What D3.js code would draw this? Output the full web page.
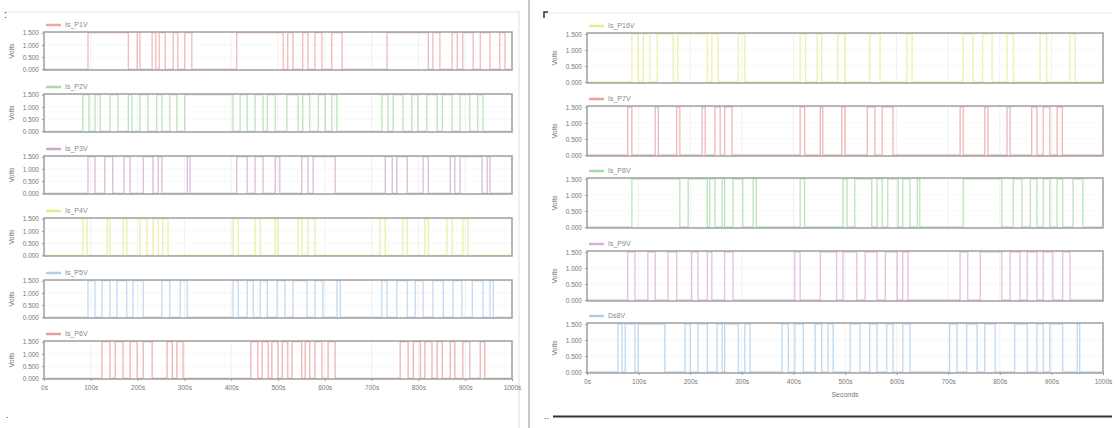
<!DOCTYPE html>
<html>
<head>
<meta charset="utf-8">
<script src="https://cdn.jsdelivr.net/npm/d3@7"></script>
<style>
  body { margin: 0; background: #fff; }
  svg { display: block; font-family: "Liberation Sans", Arial, sans-serif; }
</style>
</head>
<body>
<div id="chart"></div>
<script>
// signal names
const leftNames = ["Is_P1V", "Is_P2V", "Is_P3V", "Is_P4V", "Is_P5V", "Is_P6V"];
const rightNames = ["Is_P16V", "Is_P7V", "Is_P8V", "Is_P9V", "Ds8V"];

// tick labels
const yTicks = [0, 0.5, 1.0, 1.5];
const xTicks = [0, 100, 200, 300, 400, 500, 600, 700, 800, 900, 1000];

// switching times (seconds), each one toggles the signal, all start low
const p1Edges = [94, 180, 199, 205, 231, 239, 246, 259, 276, 286, 301, 316, 412, 511, 521, 532, 553, 564, 579, 594, 615, 637, 733, 821, 831, 846, 872, 883, 895, 917, 932, 953, 974, 985];
const p2Edges = [83, 96, 109, 120, 141, 158, 180, 188, 205, 222, 241, 252, 269, 284, 301, 404, 419, 434, 451, 468, 477, 494, 519, 543, 553, 568, 586, 601, 615, 626, 722, 735, 746, 767, 786, 799, 818, 840, 851, 872, 889, 910, 927, 938];
const p3Edges = [94, 109, 130, 147, 171, 184, 212, 233, 244, 252, 306, 312, 412, 434, 451, 468, 494, 504, 551, 564, 575, 622, 729, 744, 754, 776, 810, 821, 868, 878, 889, 936, 947, 953];
const p4Edges = [83, 92, 135, 141, 169, 177, 205, 220, 233, 244, 254, 265, 404, 415, 451, 462, 494, 500, 543, 551, 564, 579, 718, 729, 767, 776, 814, 821, 861, 872, 895, 906];
const p5Edges = [94, 109, 124, 141, 156, 177, 190, 212, 252, 269, 291, 306, 404, 415, 434, 447, 462, 477, 498, 515, 532, 562, 579, 596, 626, 633, 722, 733, 754, 776, 793, 810, 831, 853, 874, 893, 915, 938, 953, 960];
const p6Edges = [124, 141, 152, 169, 184, 199, 212, 231, 263, 274, 284, 297, 442, 457, 466, 479, 487, 500, 509, 521, 530, 551, 558, 568, 579, 594, 607, 622, 761, 778, 789, 804, 814, 829, 840, 851, 868, 878, 895, 910, 932, 942];

const r1Edges = [87, 99, 109, 122, 136, 167, 176, 233, 242, 254, 293, 306, 413, 424, 446, 455, 486, 500, 548, 568, 620, 630, 729, 748, 767, 785, 814, 826, 878, 891, 936, 946];
const r2Edges = [79, 87, 132, 138, 174, 180, 223, 229, 248, 258, 267, 281, 413, 422, 452, 457, 494, 500, 543, 558, 572, 593, 723, 729, 771, 777, 814, 820, 862, 872, 884, 897, 911, 921];
const r3Edges = [87, 180, 196, 233, 238, 248, 262, 267, 283, 302, 322, 328, 413, 422, 496, 504, 519, 552, 562, 572, 583, 603, 612, 626, 640, 645, 729, 804, 826, 843, 859, 872, 884, 897, 911, 922, 942, 961];
const r4Edges = [79, 93, 118, 132, 157, 174, 203, 215, 233, 242, 267, 283, 403, 413, 452, 484, 496, 523, 539, 562, 578, 601, 612, 622, 723, 738, 762, 804, 820, 839, 853, 872, 884, 903, 922, 936];
const r5Edges = [60, 68, 74, 93, 99, 151, 190, 200, 215, 233, 252, 262, 267, 293, 306, 316, 378, 390, 403, 419, 442, 455, 467, 477, 510, 529, 548, 562, 581, 593, 612, 626, 703, 717, 736, 756, 771, 791, 829, 853, 872, 884, 897, 922, 950, 955];

const HIGH = 1.5;
const LOW = 0;

const leftEdges = [p1Edges, p2Edges, p3Edges, p4Edges, p5Edges, p6Edges];
const rightEdges = [r1Edges, r2Edges, r3Edges, r4Edges, r5Edges];

const leftColors = ["#eda6a6", "#a6dca6", "#cfa8c9", "#e8e88f", "#b0cfec", "#ea9c9c"];
const rightColors = ["#ecea90", "#eca0a0", "#a6dca6", "#e0abd8", "#adcdec"];

const width = 1117, height = 428;

const svg = d3.select("#chart").append("svg")
    .attr("width", width)
    .attr("height", height);

// page furniture
svg.append("line").attr("x1", 4).attr("x2", 520).attr("y1", 12).attr("y2", 12)
    .attr("stroke", "#e4e4e4");
svg.append("line").attr("x1", 519).attr("x2", 519).attr("y1", 12).attr("y2", 428)
    .attr("stroke", "#e0e0e0");
svg.append("line").attr("x1", 529).attr("x2", 529).attr("y1", 0).attr("y2", 428)
    .attr("stroke", "#c8c8c8").attr("stroke-width", 2);
svg.append("line").attr("x1", 540).attr("x2", 1112).attr("y1", 13).attr("y2", 13)
    .attr("stroke", "#eaeaea");
svg.append("line").attr("x1", 553).attr("x2", 1112).attr("y1", 416.5).attr("y2", 416.5)
    .attr("stroke", "#333").attr("stroke-width", 2);
svg.append("text").attr("x", 4).attr("y", 18).attr("font-size", 10).attr("fill", "#333").text(":");
svg.append("text").attr("x", 6).attr("y", 418).attr("font-size", 9).attr("fill", "#333").text(".");
svg.append("text").attr("x", 544).attr("y", 419).attr("font-size", 9).attr("fill", "#333").text("..");
svg.append("path").attr("d", "M544,18 V12 H548").attr("fill", "none").attr("stroke", "#333").attr("stroke-width", 1.5);

function toPoints(edges) {
  const pts = [{t: 0, v: LOW}];
  let v = LOW;
  edges.forEach(t => {
    v = v === LOW ? HIGH : LOW;
    pts.push({t: t, v: v});
  });
  pts.push({t: 1000, v: v});
  return pts;
}

function drawPanel(opts) {
  const x = d3.scaleLinear().domain([0, 1000]).range([opts.left, opts.right]);

  opts.names.forEach((name, i) => {
    const top = opts.tops[i];
    const h = opts.plotHeight;
    const y = d3.scaleLinear().domain([-0.03, 1.53]).range([top + h, top]);
    const g = svg.append("g");

    // grid
    g.append("g")
      .selectAll("line.gx")
      .data(xTicks)
      .join("line")
        .attr("x1", d => x(d)).attr("x2", d => x(d))
        .attr("y1", top).attr("y2", top + h)
        .attr("stroke", "#f1f1f1");
    g.append("g")
      .selectAll("line.gy")
      .data(yTicks)
      .join("line")
        .attr("x1", opts.left).attr("x2", opts.right)
        .attr("y1", d => y(d)).attr("y2", d => y(d))
        .attr("stroke", "#efefef")
        .attr("stroke-dasharray", "2,2");

    // signal
    const line = d3.line()
        .x(d => x(d.t))
        .y(d => y(d.v))
        .curve(d3.curveStepAfter);
    g.append("path")
      .datum(toPoints(opts.edges[i]))
      .attr("fill", "none")
      .attr("stroke", opts.colors[i])
      .attr("stroke-width", 1)
      .attr("d", line);

    // frame
    g.append("rect")
      .attr("x", opts.left).attr("y", top)
      .attr("width", opts.right - opts.left).attr("height", h)
      .attr("fill", "none")
      .attr("stroke", "#a0a0a0")
      .attr("stroke-width", 1.5);

    // y axis
    const ya = g.append("g")
      .attr("transform", `translate(${opts.left},0)`)
      .call(d3.axisLeft(y).tickValues(yTicks).tickFormat(d3.format(".3f")).tickSize(2));
    ya.select(".domain").remove();
    ya.selectAll(".tick line").attr("stroke", "#999");
    ya.selectAll(".tick text").attr("fill", "#777").attr("font-size", 6.5);

    g.append("text")
      .attr("transform", `translate(${opts.left - 30},${top + h / 2}) rotate(-90)`)
      .attr("text-anchor", "middle")
      .attr("font-size", 7)
      .attr("fill", "#777")
      .text("Volts");

    // legend
    g.append("line")
      .attr("x1", opts.left + 2).attr("x2", opts.left + 17)
      .attr("y1", top - 7).attr("y2", top - 7)
      .attr("stroke", opts.colors[i])
      .attr("stroke-width", 2.5);
    g.append("text")
      .attr("x", opts.left + 21).attr("y", top - 5)
      .attr("font-size", 7)
      .attr("fill", "#888")
      .text(name);
  });

  // x axis under the last plot
  const lastBottom = opts.tops[opts.tops.length - 1] + opts.plotHeight;
  const xa = svg.append("g")
    .attr("transform", `translate(0,${lastBottom})`)
    .call(d3.axisBottom(x).tickValues(xTicks).tickFormat(d => d + "s").tickSize(2));
  xa.select(".domain").remove();
  xa.selectAll(".tick line").attr("stroke", "#999");
  xa.selectAll(".tick text").attr("fill", "#777").attr("font-size", 6.5).attr("dy", "0.9em");

  if (opts.xLabel) {
    svg.append("text")
      .attr("x", x(500)).attr("y", lastBottom + 24)
      .attr("text-anchor", "middle")
      .attr("font-size", 7)
      .attr("fill", "#777")
      .text(opts.xLabel);
  }
}

drawPanel({
  names: leftNames,
  edges: leftEdges,
  colors: leftColors,
  left: 44, right: 512,
  tops: [32, 94, 156, 218, 280, 341],
  plotHeight: 38
});

drawPanel({
  names: rightNames,
  edges: rightEdges,
  colors: rightColors,
  left: 587, right: 1103,
  tops: [33, 106, 178, 251, 323],
  plotHeight: 50,
  xLabel: "Seconds"
});
</script>
</body>
</html>
